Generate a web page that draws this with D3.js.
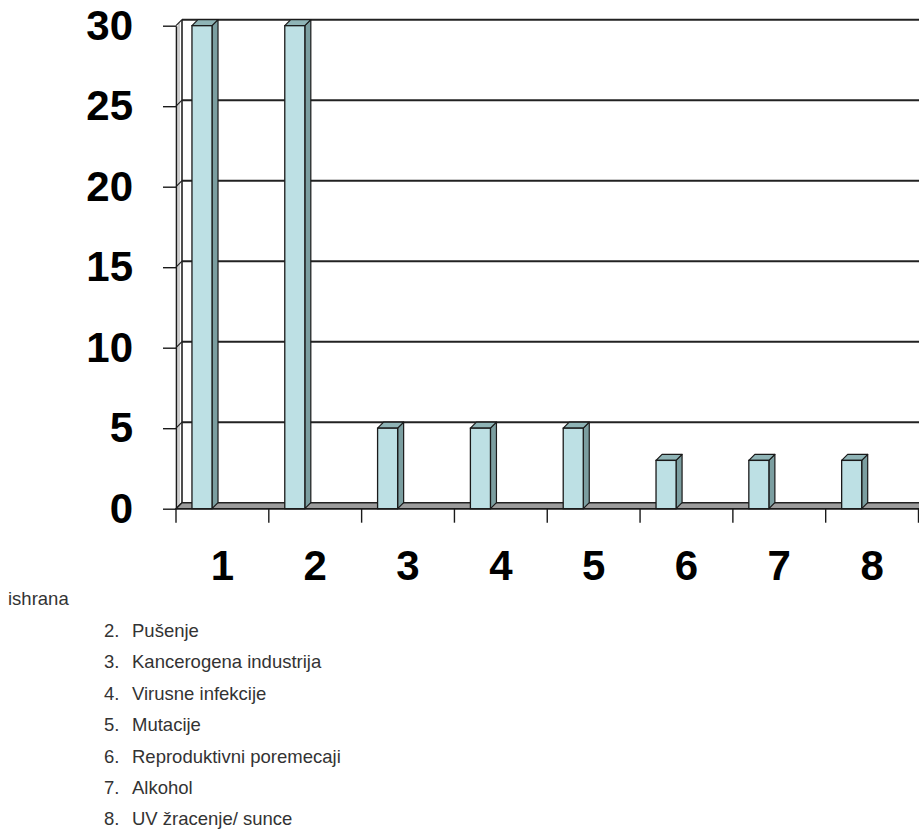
<!DOCTYPE html>
<html>
<head>
<meta charset="utf-8">
<script src="https://cdn.jsdelivr.net/npm/d3@7/dist/d3.min.js"></script>
<style>
  html, body { margin: 0; padding: 0; background: #fff; }
  svg { display: block; }
</style>
</head>
<body>
<svg id="chart" width="919" height="830"></svg>
<script>
// Risk factors (1-8) and their counts
const categories = ["1", "2", "3", "4", "5", "6", "7", "8"];
const values = [30, 30, 5, 5, 5, 3, 3, 3];
const yTicks = [0, 5, 10, 15, 20, 25, 30];
const firstLine = "ishrana";
const legendNumbers = ["2.", "3.", "4.", "5.", "6.", "7.", "8."];
const legendLabels = [
  "Pušenje",
  "Kancerogena industrija",
  "Virusne infekcije",
  "Mutacije",
  "Reproduktivni poremecaji",
  "Alkohol",
  "UV žracenje/ sunce"
];

const svg = d3.select("#chart");
const W = 919;
const font = "Arial, 'Liberation Sans', sans-serif";

// front plane
const x = d3.scaleBand().domain(categories).range([176, 918.5]).padding(0);
const y = d3.scaleLinear().domain([0, 30]).range([508.7, 25.7]);
const dx = 6, dy = 6;               // depth offset of the back wall
const barOff = 0.172, barW = 0.216; // bar position within each band

const g = svg.append("g");

// back-wall gridlines
g.selectAll("line.grid").data(yTicks.filter(t => t > 0)).join("line")
  .attr("x1", 176 + dx).attr("x2", W + 5)
  .attr("y1", d => y(d) - dy).attr("y2", d => y(d) - dy)
  .attr("stroke", "#222").attr("stroke-width", 2);

// left side wall
g.append("line").attr("x1", 176 + dx).attr("x2", 176 + dx)
  .attr("y1", y(30) - dy).attr("y2", y(0) - dy)
  .attr("stroke", "#222").attr("stroke-width", 1.6);
g.append("line").attr("x1", 179).attr("x2", 179)
  .attr("y1", y(30) - 3).attr("y2", y(0) - 3)
  .attr("stroke", "#9a9a9a").attr("stroke-width", 1);
g.selectAll("line.side").data(yTicks).join("line")
  .attr("x1", 176).attr("x2", 176 + dx)
  .attr("y1", d => y(d)).attr("y2", d => y(d) - dy)
  .attr("stroke", "#222").attr("stroke-width", 1.2);

// floor
g.append("polygon")
  .attr("points", [[176, y(0)], [176 + dx, y(0) - dy], [W + 10, y(0) - dy], [W + 10, y(0)]].join(" "))
  .attr("fill", "#9c9c9c").attr("stroke", "#222").attr("stroke-width", 1.5);

// 3D bars
const bars = g.selectAll("g.bar").data(values).join("g").attr("class", "bar");
bars.each(function (v, i) {
  const b = d3.select(this);
  const bw = x.bandwidth();
  const x0 = x(categories[i]) + bw * barOff;
  const w = bw * barW;
  const yt = y(v), yb = y(0);
  b.append("polygon")
    .attr("points", [[x0 + w, yb], [x0 + w + dx, yb - dy], [x0 + w + dx, yt - dy], [x0 + w, yt]].join(" "))
    .attr("fill", "#7b9ea0").attr("stroke", "#1a1a1a").attr("stroke-width", 1.2).attr("stroke-linejoin", "round");
  b.append("polygon")
    .attr("points", [[x0, yt], [x0 + dx, yt - dy], [x0 + w + dx, yt - dy], [x0 + w, yt]].join(" "))
    .attr("fill", "#8fb4b6").attr("stroke", "#1a1a1a").attr("stroke-width", 1.2).attr("stroke-linejoin", "round");
  b.append("rect")
    .attr("x", x0).attr("y", yt).attr("width", w).attr("height", yb - yt)
    .attr("fill", "#bde0e4").attr("stroke", "#1a1a1a").attr("stroke-width", 1.3);
});

// value axis
const yAxis = d3.axisLeft(y).tickValues(yTicks).tickSize(13).tickPadding(30).tickSizeOuter(0);
const ya = svg.append("g").attr("transform", "translate(176,0)").call(yAxis);
ya.select(".domain").attr("stroke", "#1a1a1a").attr("stroke-width", 1.6);
ya.selectAll(".tick line").attr("stroke", "#1a1a1a").attr("stroke-width", 1.4);
ya.selectAll(".tick text")
  .attr("font-family", font)
  .attr("font-weight", "bold").attr("font-size", 42).attr("fill", "#000");

// category axis
const xAxis = d3.axisBottom(x).tickSize(14).tickSizeOuter(0);
const xa = svg.append("g").attr("transform", `translate(0,${y(0)})`).call(xAxis);
xa.select(".domain").remove();
xa.selectAll(".tick line").remove();
xa.selectAll(".tick text")
  .attr("y", 57).attr("dy", "0.35em")
  .attr("font-family", font)
  .attr("font-weight", "bold").attr("font-size", 42).attr("fill", "#000");
// tick marks at band boundaries
const bounds = categories.map(c => x(c)).concat([x.range()[1]]);
xa.selectAll("line.bt").data(bounds).join("line")
  .attr("x1", d => d).attr("x2", d => d).attr("y1", 0).attr("y2", 14)
  .attr("stroke", "#1a1a1a").attr("stroke-width", 1.4);
xa.append("line").attr("x1", 176).attr("x2", W + 5).attr("y1", 0).attr("y2", 0)
  .attr("stroke", "#1a1a1a").attr("stroke-width", 1.6);

// numbered list under the chart
svg.append("text").attr("x", 8).attr("y", 605)
  .attr("font-family", font).attr("font-size", 18.5).attr("fill", "#333").text(firstLine);
const lg = svg.append("g");
legendLabels.forEach((t, i) => {
  const by = 637 + i * 31.4;
  lg.append("text").attr("x", 104).attr("y", by)
    .attr("font-family", font).attr("font-size", 18.5).attr("fill", "#333").text(legendNumbers[i]);
  lg.append("text").attr("x", 132).attr("y", by)
    .attr("font-family", font).attr("font-size", 18.5).attr("fill", "#333").text(t);
});
</script>
</body>
</html>
